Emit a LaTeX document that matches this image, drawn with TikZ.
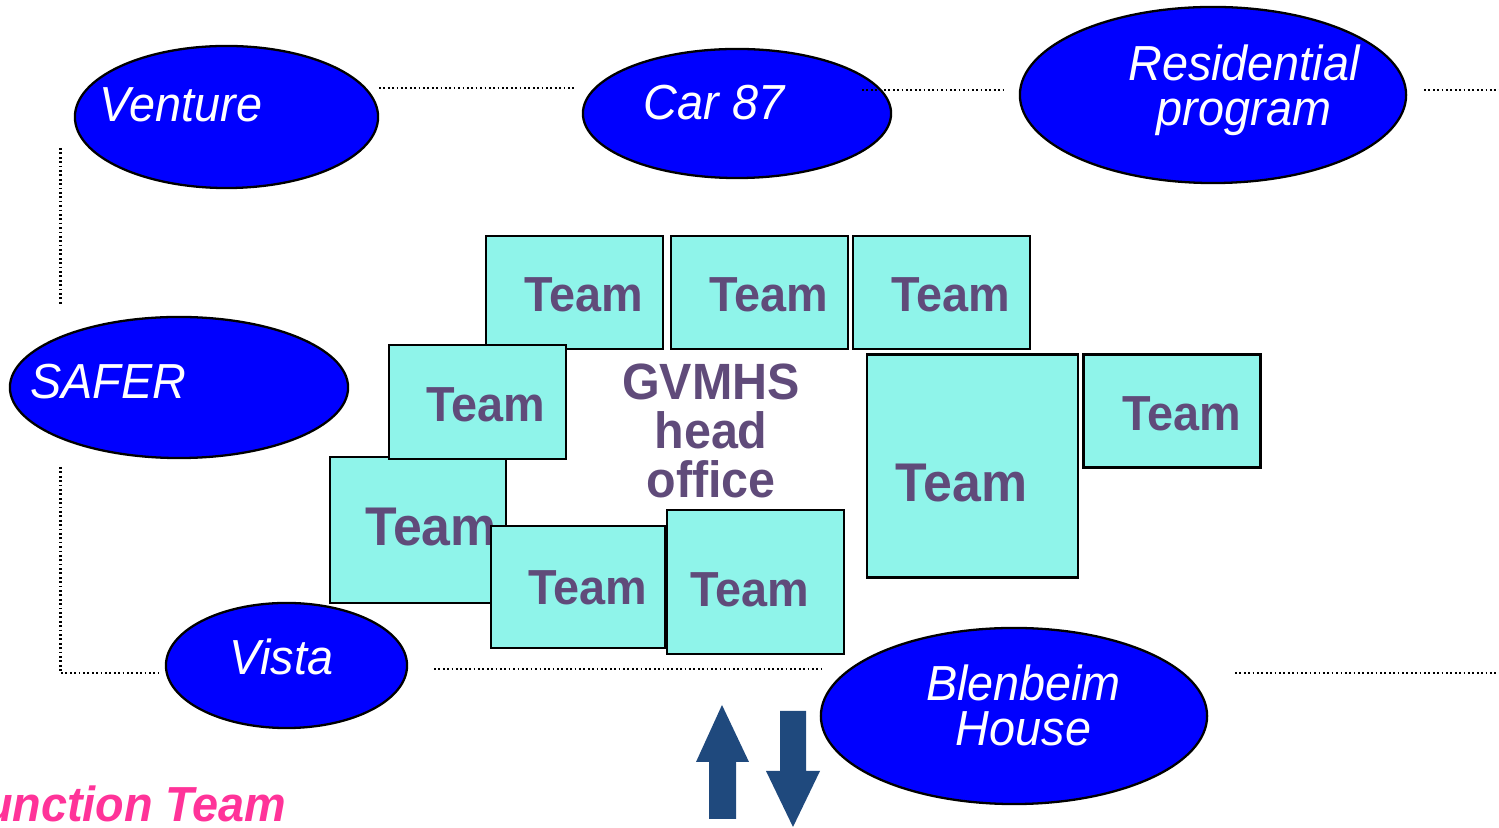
\documentclass[tikz,border=0pt]{standalone}
\usepackage{fontspec}
\setmainfont{Liberation Sans}[FakeStretch=0.95]
\usetikzlibrary{shapes.geometric, positioning, calc}
\definecolor{siteblue}{RGB}{0,0,255}
\definecolor{teamcyan}{RGB}{143,244,234}
\definecolor{teamtext}{RGB}{96,75,122}
\definecolor{flowblue}{RGB}{31,73,125}
\definecolor{funcpink}{RGB}{255,51,153}
\tikzset{
  site/.style={ellipse, draw=black, line width=0.65pt, fill=siteblue, inner sep=0pt},
  sitetxt/.style={text=white, font=\fontsize{14}{12.9}\selectfont\itshape, align=center, inner sep=0pt},
  team/.style={rectangle, draw=black, line width=0.75pt, fill=teamcyan, inner sep=0pt},
  teamtxt/.style={text=teamtext, font=\fontsize{14}{14}\selectfont\bfseries, inner sep=0pt},
  bigtxt/.style={teamtxt, font=\fontsize{15.5}{15.5}\selectfont\bfseries},
  link/.style={line width=0.6pt, dash pattern=on 0.5pt off 0.75pt}
}
\begin{document}
\begin{tikzpicture}[x=0.01cm, y=-0.01cm]
      \clip (0,0) rectangle (1499,828);

      \node[site, minimum width=3.03cm, minimum height=1.42cm] (venture) at (226.5,117) {};
      \node[site, minimum width=3.08cm, minimum height=1.29cm] (car) at (737,113.5) {};
      \node[site, minimum width=3.86cm, minimum height=1.76cm] (resi) at (1213,95) {};
      \node[site, minimum width=3.38cm, minimum height=1.41cm] (safer) at (179,387.5) {};
      \node[site, minimum width=2.41cm, minimum height=1.25cm] (vista) at (286.5,665.5) {};
      \node[site, minimum width=3.86cm, minimum height=1.76cm] (blen) at (1014,716) {};

      \node[sitetxt] (venture-t) at (181,105) {Venture};
      \node[sitetxt] (car-t) at (714,102.5) {Car 87};
      \node[sitetxt] (resi-t) at (1244,90) {Residential\\program};
      \node[sitetxt] (safer-t) at (108.5,381.5) {SAFER};
      \node[sitetxt] (vista-t) at (281.5,656.5) {Vista};
      \node[sitetxt] (blen-t) at (1023.5,705.5) {Blenbeim\\House};

      \coordinate (l1a) at (379,88);  \coordinate (l1b) at (574,88);
      \coordinate (l2a) at (862,90);  \coordinate (l2b) at (1004,90);
      \coordinate (l3a) at (1424,90); \coordinate (l3b) at (1499,90);
      \coordinate (l4a) at (60.5,148); \coordinate (l4b) at (60.5,304);
      \coordinate (l5a) at (60.5,467); \coordinate (l5b) at (60.5,673); \coordinate (l5c) at (159,673);
      \coordinate (l6a) at (434,669); \coordinate (l6b) at (822,669);
      \coordinate (l7a) at (1235,673); \coordinate (l7b) at (1499,673);
      \draw[link] (l1a) -- (l1b);
      \draw[link] (l2a) -- (l2b);
      \draw[link] (l3a) -- (l3b);
      \draw[link] (l4a) -- (l4b);
      \draw[link] (l5a) -- (l5b) -- (l5c);
      \draw[link] (l6a) -- (l6b);
      \draw[link] (l7a) -- (l7b);

      \node[team, minimum width=1.77cm, minimum height=1.13cm] (t1) at (574.5,292.5) {};
      \node[team, minimum width=1.77cm, minimum height=1.13cm] (t2) at (759.5,292.5) {};
      \node[team, minimum width=1.77cm, minimum height=1.13cm] (t3) at (941.5,292.5) {};
      \node[team, minimum width=1.76cm, minimum height=1.46cm] (t5) at (418,530) {};
      \node[team, minimum width=1.77cm, minimum height=1.14cm] (t4) at (477.5,402) {};
      \node[bigtxt] (t5-t) at (431,527) {Team};
      \node[team, minimum width=1.74cm, minimum height=1.22cm] (t6) at (578,587) {};
      \node[team, minimum width=1.77cm, minimum height=1.44cm] (t7) at (755.5,582) {};
      \node[team, minimum width=2.11cm, minimum height=2.23cm] (t8) at (972.5,466) {};
      \node[team, minimum width=1.77cm, minimum height=1.13cm] (t9) at (1172,411) {};

      \node[teamtxt] (t1-t) at (584,295) {Team};
      \node[teamtxt] (t2-t) at (769,295) {Team};
      \node[teamtxt] (t3-t) at (951,295) {Team};
      \node[teamtxt] (t4-t) at (486,404.5) {Team};
      \node[teamtxt] (t6-t) at (588,588) {Team};
      \node[teamtxt] (t7-t) at (750,589.5) {Team};
      \node[bigtxt] (t8-t) at (961.5,483) {Team};
      \node[teamtxt] (t9-t) at (1182,414) {Team};

      \node[teamtxt, align=center, font=\fontsize{14.5}{14}\selectfont\bfseries] (office) at (711,431) {GVMHS\\head\\office};

      \fill[flowblue] (722,705) -- (749,762) -- (736,762) -- (736,819) -- (709,819) -- (709,762) -- (696,762) -- cycle;
      \fill[flowblue] (780,711) -- (806,711) -- (806,771) -- (820,771) -- (793,827) -- (766,771) -- (780,771) -- cycle;

      \node[text=funcpink, font=\fontsize{14}{14}\selectfont\bfseries\itshape, inner sep=0pt, anchor=east] (func) at (287,803.5) {Function Team};
\end{tikzpicture}
\end{document}
